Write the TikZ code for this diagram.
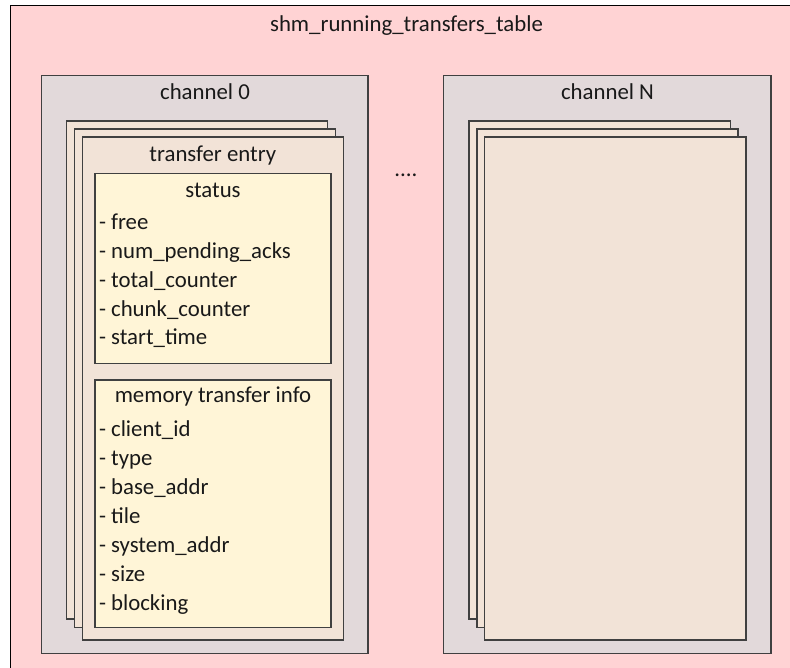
\documentclass[tikz,border=0pt]{standalone}
\usepackage{fontspec}
\setmainfont{Carlito}
\begin{document}
\begin{tikzpicture}[x=1pt,y=-1pt,
  every node/.style={inner sep=0pt, outer sep=0pt, font=\fontsize{22.8}{27}\selectfont, text=black!90},
  frame/.style={draw=black!75, line width=1.3pt, anchor=north west},
  tablebox/.style={frame, draw=black, fill=tablefill},
  chanbox/.style={frame, fill=chanfill},
  cardbox/.style={frame, fill=cardfill},
  infobox/.style={frame, fill=infofill},
  lbl/.style={anchor=base},
  item/.style={anchor=base west}]
\definecolor{tablefill}{HTML}{FFD3D4}
\definecolor{chanfill}{HTML}{E2D9DA}
\definecolor{cardfill}{HTML}{F2E3D7}
\definecolor{infofill}{HTML}{FFF5D7}
\useasboundingbox (0,0) rectangle (790,668);

% whole table
\node[tablebox, minimum width=800pt, minimum height=680pt] (table) at (10.5,5.7) {};
\node[lbl] (title) at (406.5,32) {shm\_running\_transfers\_table};

% channel 0
\node[chanbox, minimum width=326.3pt, minimum height=577.5pt] (ch0) at (41.7,75.7) {};
\node[lbl] (ch0lbl) at (205,100) {channel 0};
\node[cardbox, minimum width=261pt, minimum height=498pt] (ch0a) at (66.7,121) {};
\node[cardbox, minimum width=261pt, minimum height=498.7pt] (ch0b) at (74.3,129) {};
\node[cardbox, minimum width=261pt, minimum height=503pt] (ch0c) at (82.3,137) {};
\node[lbl] (entry) at (212.8,161.7) {transfer entry};

% status block
\node[infobox, minimum width=236pt, minimum height=190pt] (status) at (95,173.3) {};
\node[lbl] (statuslbl) at (213,198) {status};
\node[item] (s1) at (99,230) {- free};
\node[item] (s2) at (99,258.7) {- num\_pending\_acks};
\node[item] (s3) at (99,287.4) {- total\_counter};
\node[item] (s4) at (99,316.1) {- chunk\_counter};
\node[item] (s5) at (99,344.8) {- start\_time};

% memory transfer info block
\node[infobox, minimum width=236pt, minimum height=247.7pt] (mem) at (95,380) {};
\node[lbl] (memlbl) at (213,402.7) {memory transfer info};
\node[item] (m1) at (99,436) {- client\_id};
\node[item] (m2) at (99,465) {- type};
\node[item] (m3) at (99,494) {- base\_addr};
\node[item] (m4) at (99,523) {- tile};
\node[item] (m5) at (99,552.3) {- system\_addr};
\node[item] (m6) at (99,581) {- size};
\node[item] (m7) at (99,610) {- blocking};

\node[lbl] (dots) at (406,176.7) {....};

% channel N
\node[chanbox, minimum width=327.7pt, minimum height=577.6pt] (chN) at (443.3,75.7) {};
\node[lbl] (chNlbl) at (607.5,100) {channel N};
\node[cardbox, minimum width=261.3pt, minimum height=498pt] (chNa) at (469,121) {};
\node[cardbox, minimum width=261pt, minimum height=498.7pt] (chNb) at (477,129) {};
\node[cardbox, minimum width=261.3pt, minimum height=503pt] (chNc) at (484.7,137) {};
\end{tikzpicture}
\end{document}
